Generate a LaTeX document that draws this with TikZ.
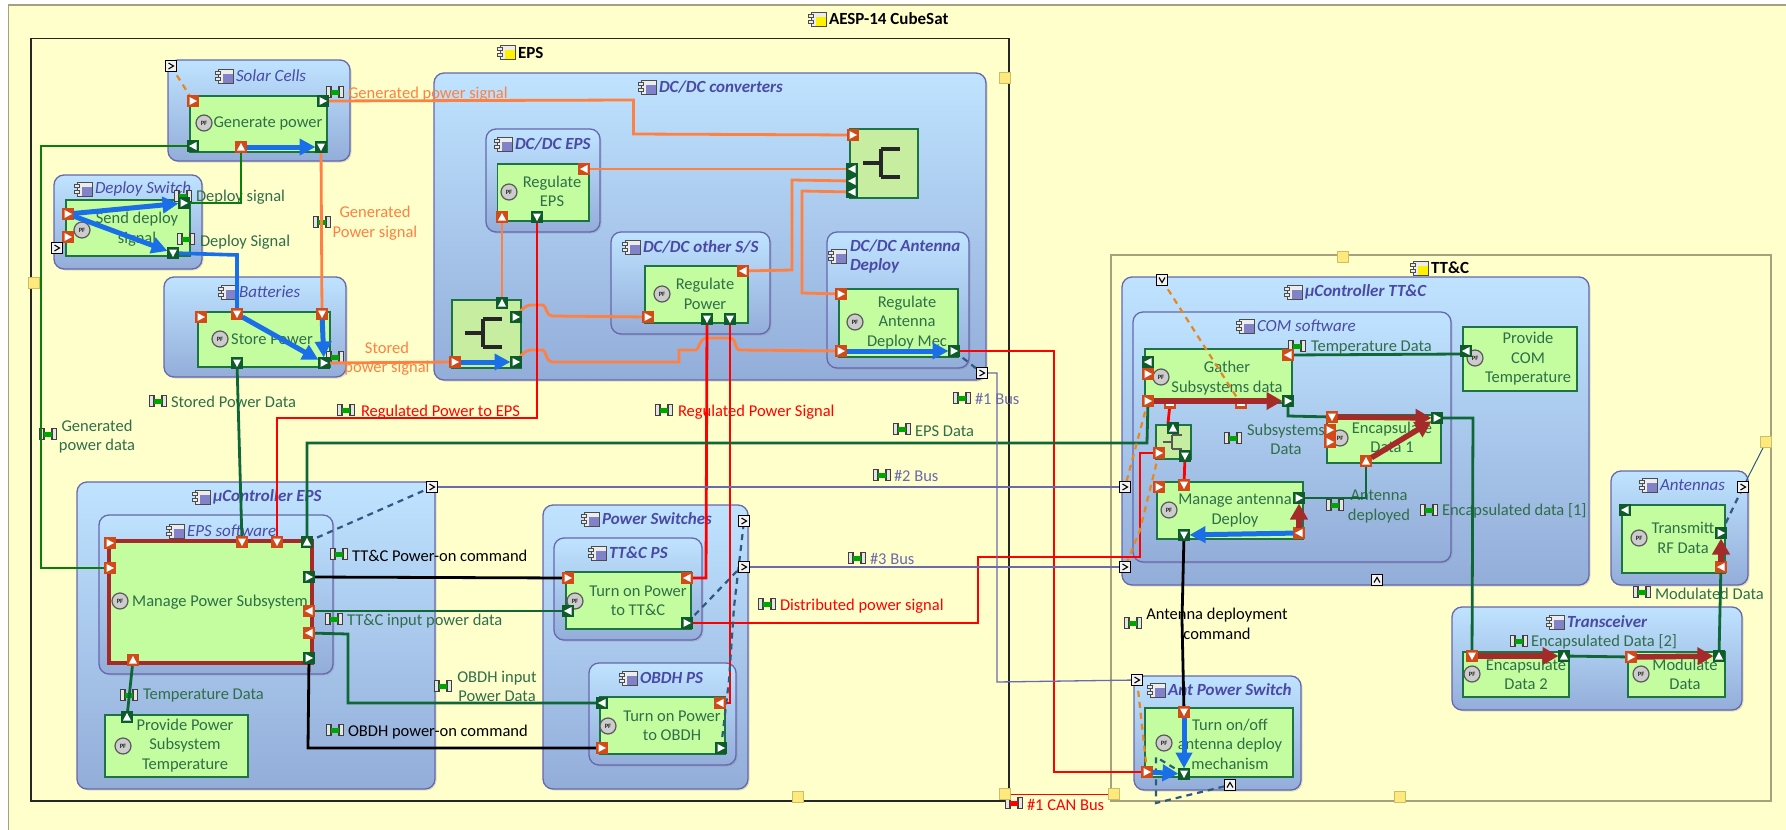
\documentclass[tikz,border=0pt]{standalone}
\usepackage{fontspec}
\setmainfont{Carlito}
\usetikzlibrary{arrows.meta,shadows}
\pgfdeclarelayer{bg}\pgfdeclarelayer{fg}\pgfdeclarelayer{top}
\pgfsetlayers{bg,main,fg,top}
\definecolor{pageY}{HTML}{FFFFCC}
\definecolor{contTop}{HTML}{BFE3FF}
\definecolor{contBot}{HTML}{93ADD9}
\definecolor{contLine}{HTML}{6767AE}
\definecolor{taskFill}{HTML}{C3FD9F}
\definecolor{forkFill}{HTML}{C6EDA0}
\definecolor{taskLine}{HTML}{1C7444}
\definecolor{txtG}{HTML}{2F6E48}
\definecolor{txtT}{HTML}{4A4AA6}
\definecolor{portO}{HTML}{D24A17}
\definecolor{portG}{HTML}{0E5C2C}
\definecolor{lnO}{HTML}{FF8040}
\definecolor{lnG}{HTML}{0F6637}
\definecolor{lnL}{HTML}{0A7D0A}
\definecolor{lnB}{HTML}{1A6FE8}
\definecolor{lnR}{HTML}{FF0000}
\definecolor{lnV}{HTML}{6A6AAE}
\definecolor{flowBr}{HTML}{A52A2A}
\definecolor{dashD}{HTML}{2F5A80}
\definecolor{dashO}{HTML}{E8871E}
\definecolor{yelSq}{HTML}{FFE97F}
\definecolor{tanLine}{HTML}{A89F7C}
\newcounter{lblc}
\tikzset{
 contbox/.style={draw=contLine,line width=1.3pt,rounded corners=10pt,top color=contTop,bottom color=contBot,inner sep=0pt,outer sep=0pt,drop shadow={shadow xshift=1.5pt,shadow yshift=-1.5pt,opacity=.25}},
 taskbox/.style={draw=taskLine,line width=1.4pt,fill=taskFill,inner sep=0pt,outer sep=0pt},
 forkbox/.style={draw=taskLine,line width=1.4pt,fill=forkFill,inner sep=0pt,outer sep=0pt},
 txtbase/.style={inner sep=0pt,outer sep=0pt,align=center,font=\fontsize{16.5}{19.5}\selectfont},
 tasktxt/.style={txtbase,text=txtG},
 titleR/.style={txtbase,anchor=west,text=txtT,font=\fontsize{17}{19.5}\selectfont\itshape},
 titleB/.style={txtbase,anchor=west,text=txtT,font=\fontsize{17}{19.5}\selectfont\itshape\bfseries},
 boldT/.style={txtbase,anchor=west,text=black,font=\fontsize{17}{19.5}\selectfont\bfseries},
 portbox/.style={draw=#1,fill=#1,line width=.5pt,minimum size=11pt,inner sep=0pt,outer sep=0pt},
 smallbox/.style={draw=black,fill=white!90!gray,line width=1pt,minimum size=10.5pt,inner sep=0pt,outer sep=0pt},
 yelbox/.style={draw=yellow!50!gray,fill=yelSq,line width=1pt,minimum size=10.5pt,inner sep=0pt,outer sep=0pt},
 conO/.style={draw=lnO,line width=2.8pt},
 conR/.style={draw=lnR,line width=2.8pt},
 conG/.style={draw=lnG,line width=2.8pt},
 conL/.style={draw=lnL,line width=2.8pt},
 conK/.style={draw=black,line width=2.8pt},
 conB/.style={draw=lnB,line width=3.6pt},
 conV/.style={draw=lnV,line width=1.3pt},
 dashDk/.style={draw=dashD,line width=2.2pt,dash pattern=on 6pt off 5pt},
 dashOr/.style={draw=dashO,line width=2.2pt,dash pattern=on 6pt off 5pt},
 flowB/.style={draw=lnB,line width=5pt,-{Triangle[length=16pt,width=16pt]}},
 flowR/.style={draw=flowBr,line width=5.5pt,-{Triangle[length=16pt,width=17pt]}},
}
% style, name, x1,y1,x2,y2
\newcommand\myBox[6]{\pgfmathsetlengthmacro\myW{#5-#3}\pgfmathsetlengthmacro\myH{#6-#4}%
 \node[#1,anchor=north west,minimum width=\myW,minimum height=\myH](#2) at (#3,#4){};}
% x (left), y (centre), inner colour
\newcommand\myIcon[3]{\begin{scope}[shift={(#1,#2)}]
 \draw[black!70,line width=1pt,fill=white!85!gray] (3,-7) rectangle (18,7);
 \fill[#3] (8,-2) rectangle (18,7);
 \draw[black!70,fill=white!85!gray,line width=.8pt] (0,-4.5) rectangle (5,-1.5);
 \draw[black!70,fill=white!85!gray,line width=.8pt] (0,1.5) rectangle (5,4.5);
 \end{scope}}
\newcommand\myPF[2]{\stepcounter{lblc}\begin{scope}\node[draw=gray!70!black,line width=1.2pt,fill=gray!40,circle,minimum size=16pt,inner sep=0pt,font=\fontsize{6.5}{6.5}\selectfont\bfseries,text=gray!30!black](pf\arabic{lblc}) at (#1,#2){PF};\end{scope}}
\newcommand\myT[3]{\stepcounter{lblc}\node[tasktxt](t\arabic{lblc}) at (#1,#2){#3};}
\newcommand\myL[4]{\stepcounter{lblc}\node[txtbase,anchor=west,text=#4](t\arabic{lblc}) at (#1,#2){#3};}
\newcommand\myM[4]{\stepcounter{lblc}\node[txtbase,text=#4](t\arabic{lblc}) at (#1,#2){#3};}
\newcommand\myTitle[4]{\myIcon{#1-21}{#2}{gray!60!blue!70}\stepcounter{lblc}\node[#4](t\arabic{lblc}) at (#1,#2){#3};}
% item flow icon x,y,middle colour
\newcommand\myItem[3]{\begin{scope}[shift={(#1,#2)}]
 \fill[#3] (-5,-2.5) rectangle (5,2.5);
 \draw[black!75,line width=1.2pt,fill=white!80!gray] (-8.5,-5.5) -- (-4,-5.5) -- (-4,5.5) -- (-8.5,5.5) -- cycle;
 \draw[black!75,line width=1.2pt,fill=white!80!gray] (8.5,-5.5) -- (4,-5.5) -- (4,5.5) -- (8.5,5.5) -- cycle;
 \fill[#3] (-4,-2.5) rectangle (4,2.5);
 \end{scope}}
% port: name,x,y,colour,angle
\newcommand\myPort[5]{\node[portbox=#4](#1) at (#2,#3){};
 \fill[white,shift={(#2,#3)},rotate=#5] (-3.5,-4) -- (4,0) -- (-3.5,4) -- cycle;}
\newcommand\myBar[3]{\node[portbox=portO,minimum height=8pt,minimum width=11pt](#1) at (#2,#3){};
 \fill[white] (#2-4,#3-1) rectangle (#2+4,#3+2);}
% small chevron box: name,x,y,angle
\newcommand\mySB[4]{\node[smallbox](#1) at (#2,#3){};
 \draw[black,line width=1.1pt,shift={(#2,#3)},rotate=#4] (-2.5,-3) -- (2.5,0) -- (-2.5,3);}
\newcommand\myFork[5][1]{\begin{scope}[shift={(#2,#3)},scale=#1]
 \draw[#5,line width=#4,line cap=butt] (0,0) -- (18,0) (18,-14) -- (18,14) (18,-14) -- (37,-14) (18,14) -- (37,14);
 \end{scope}}
\begin{document}
\begin{tikzpicture}[x=1pt,y=-1pt]
\useasboundingbox (0,0) rectangle (1786,830);
\begin{pgfonlayer}{bg}
\fill[white] (0,0) rectangle (1786,830);
\draw[draw=tanLine,line width=1.2pt,fill=pageY] (8.5,5) rectangle (1790,836);
\draw[black!85,line width=1.5pt] (31,38.5) rectangle (1009,801);
\draw[draw=tanLine,line width=1.4pt] (1111,255) rectangle (1771,801);
% top level titles
\myIcon{808}{19}{yellow}\stepcounter{lblc}\node[boldT](t\arabic{lblc}) at (829,19){AESP-14 CubeSat};
\myIcon{497}{52}{yellow}\stepcounter{lblc}\node[boldT](t\arabic{lblc}) at (518,53){EPS};
\myIcon{1410}{268}{yellow}\stepcounter{lblc}\node[boldT](t\arabic{lblc}) at (1431,268){TT\&C};
% containers
\myBox{contbox}{cSolar}{168}{60}{350}{161}
\myBox{contbox}{cDeploy}{54}{175}{202}{269}
\myBox{contbox}{cBatt}{164}{277}{346}{377}
\myBox{contbox}{cDC}{434}{73}{986}{380}
\myBox{contbox}{cDCE}{486}{129}{600}{232}
\myBox{contbox}{cDCO}{611}{232}{770}{334}
\myBox{contbox}{cDCA}{827}{232}{969}{368}
\myBox{contbox}{cMuE}{77}{482}{435}{789}
\myBox{contbox}{cSwE}{99}{515}{333}{674}
\myBox{contbox}{cPS}{543}{505}{748}{789}
\myBox{contbox}{cTTPS}{554}{538}{702}{640}
\myBox{contbox}{cOBPS}{589}{663}{736}{765}
\myBox{contbox}{cMuT}{1122}{277}{1589}{585}
\myBox{contbox}{cCOM}{1133}{312}{1451}{562}
\myBox{contbox}{cAnt}{1611}{471}{1748}{585}
\myBox{contbox}{cTrans}{1452}{607}{1742}{710}
\myBox{contbox}{cAPS}{1134}{676}{1301}{790}
% titles
\myTitle{236}{76}{Solar Cells}{titleR}
\myTitle{95}{189}{Deploy Switch}{titleR}
\myTitle{239}{292}{Batteries}{titleR}
\myTitle{659}{87}{DC/DC converters}{titleB}
\myTitle{515}{144}{DC/DC EPS}{titleB}
\myTitle{643}{247}{DC/DC other S/S}{titleB}
\myIcon{828}{256}{gray!60!blue!70}\stepcounter{lblc}\node[titleB,align=left](t\arabic{lblc}) at (850,256.5){DC/DC Antenna\\Deploy};
\myTitle{213}{497}{µController EPS}{titleB}
\myTitle{187}{531}{EPS software}{titleR}
\myTitle{602}{519}{Power Switches}{titleB}
\myTitle{609}{553}{TT\&C PS}{titleB}
\myTitle{640}{678}{OBDH PS}{titleB}
\myTitle{1305}{292}{µController TT\&C}{titleB}
\myTitle{1257}{326}{COM software}{titleR}
\myTitle{1660}{485}{Antennas}{titleR}
\myTitle{1567}{622}{Transceiver}{titleB}
\myTitle{1168}{690}{Ant Power Switch}{titleB}
% tasks
\myBox{taskbox}{tGen}{190}{96}{327}{152}
\myBox{taskbox}{tSend}{66}{200}{190}{256}
\myBox{taskbox}{tStore}{198}{312}{330}{367}
\myBox{taskbox}{tRegE}{497.5}{164}{589}{221}
\myBox{taskbox}{tRegP}{645}{266}{748}{323}
\myBox{taskbox}{tRegA}{839}{289}{958}{357}
\myBox{forkbox}{fkR}{850}{129}{918}{198}
\myBox{forkbox}{fkL}{452}{300}{521}{368}
\myBox{forkbox}{fkS}{1156}{425}{1191}{459}
\myBox{taskbox}{tMan}{109}{541}{312}{663}
\draw[flowBr,line width=4.5pt] (tMan.north west) rectangle (tMan.south east);
\myBox{taskbox}{tProv}{105}{715}{248}{777}
\myBox{taskbox}{tTT}{566}{572}{691}{629}
\myBox{taskbox}{tOB}{600}{697}{725}{754}
\myBox{taskbox}{tGat}{1145}{349}{1292}{403}
\myBox{taskbox}{tEnc1}{1327}{415}{1441}{463}
\myBox{taskbox}{tMA}{1157}{482}{1303}{539}
\myBox{taskbox}{tPC}{1463}{327}{1577}{391}
\myBox{taskbox}{tAP}{1145}{708}{1293}{777}
\myBox{taskbox}{tEnc2}{1463}{652}{1569}{697}
\myBox{taskbox}{tMod}{1628}{652}{1725}{697}
\myBox{taskbox}{tRF}{1622}{505}{1725}{573}
% fork symbols
\myFork{863}{163}{3.8pt}{black!85}
\myFork{465}{333}{3.8pt}{black!85}
\myFork[.5]{1163}{442}{2.2pt}{black!65}
% PF marks
\myPF{204}{123}\myPF{82}{230}\myPF{220}{339}\myPF{509}{192}\myPF{662}{294}\myPF{855}{322}
\myPF{120}{601}\myPF{123}{746}\myPF{575}{601}\myPF{608}{726}\myPF{1161}{377}\myPF{1340}{438}
\myPF{1169}{510}\myPF{1475}{358}\myPF{1164}{743}\myPF{1472}{674}\myPF{1641}{674}\myPF{1639}{538}
% task text
\myT{268}{123}{Generate power}
\myT{137}{229}{Send deploy\\signal}
\myT{272}{339}{Store Power}
\myT{552}{191.5}{Regulate\\EPS}
\myT{705}{294}{Regulate\\Power}
\myT{907}{322.5}{Regulate\\Antenna\\Deploy Mec}
\myT{220}{602}{Manage Power Subsystem}
\myT{185}{745.5}{Provide Power\\Subsystem\\Temperature}
\myT{638}{601}{Turn on Power\\to TT\&C}
\myT{672}{726}{Turn on Power\\to OBDH}
\myT{1227}{378}{Gather\\Subsystems data}
\myT{1392}{437.5}{Encapsulate\\Data 1}
\myT{1235}{510.5}{Manage antenna\\Deploy}
\myT{1528}{359}{Provide\\COM\\Temperature}
\myT{1230}{744}{Turn on/off\\antenna deploy\\mechanism}
\myT{1526}{674.5}{Encapsulate\\Data 2}
\myT{1685}{674.5}{Modulate\\Data}
\myT{1683}{538}{Transmitt\\RF Data}
% item flows
\myItem{335}{92}{green!65!black}\myL{348}{94}{Generated power signal}{lnO}
\myItem{183}{196}{green!65!black}\myL{196}{197}{Deploy signal}{txtG}
\myItem{186}{239}{green!65!black}\myL{200}{242}{Deploy Signal}{txtG}
\myItem{322}{222}{green!65!black}\myM{375}{223}{Generated\\Power signal}{lnO}
\myItem{335}{357}{green!65!black}\myM{387}{358.5}{Stored\\power signal}{lnO}
\myItem{158}{401}{green!65!black}\myL{171}{402}{Stored Power Data}{txtG}
\myItem{346}{410}{green!65!black}\myL{361}{412}{Regulated Power to EPS}{lnR}
\myItem{664}{410}{green!65!black}\myL{678}{412}{Regulated Power Signal}{lnR}
\myItem{962}{398}{green!65!black}\myL{975}{399}{\#1 Bus}{lnV}
\myItem{902}{429}{green!65!black}\myL{915}{431}{EPS Data}{txtG}
\myItem{48}{434}{green!65!black}\myM{97}{436.5}{Generated\\power data}{txtG}
\myItem{882}{475}{green!65!black}\myL{894}{476}{\#2 Bus}{lnV}
\myItem{857}{558}{green!65!black}\myL{870}{559}{\#3 Bus}{lnV}
\myItem{339}{554}{green!65!black}\myL{352}{556}{TT\&C Power-on command}{black}
\myItem{334}{619}{green!65!black}\myL{347}{621}{TT\&C input power data}{txtG}
\myItem{443}{686}{green!65!black}\myM{497}{686.5}{OBDH input\\Power Data}{txtG}
\myItem{335}{730}{green!65!black}\myL{348}{732}{OBDH power-on command}{black}
\myItem{129}{695}{green!65!black}\myL{143}{696}{Temperature Data}{txtG}
\myItem{767}{604}{green!65!black}\myL{780}{606}{Distributed power signal}{lnR}
\myItem{1014}{803}{red}\myL{1027}{805}{\#1 CAN Bus}{lnR}
\myItem{1297}{346}{green!65!black}\myL{1311}{348}{Temperature Data}{txtG}
\myItem{1233}{438}{green!65!black}\myM{1286}{439.5}{Subsystems\\Data}{txtG}
\myItem{1335}{505}{green!65!black}\myM{1379}{506.5}{Antenna\\deployed}{txtG}
\myItem{1429}{510}{green!65!black}\myL{1442}{511}{Encapsulated data [1]}{txtG}
\myItem{1133}{623}{green!65!black}\myM{1217}{624}{Antenna deployment\\command}{black}
\myItem{1519}{641}{green!65!black}\myL{1531}{642}{Encapsulated Data [2]}{txtG}
\myItem{1642}{592}{green!65!black}\myL{1655}{594}{Modulated Data}{txtG}
\end{pgfonlayer}
% ports and small boxes
\begin{pgfonlayer}{fg}
\myPort{gpA}{193}{101}{portO}{0}\myPort{gpB}{323}{101}{portG}{0}\myPort{gpC}{193}{146}{portG}{180}
\myPort{gpD}{241}{147}{portO}{90}\myPort{gpE}{321}{147}{portG}{-90}
\myPort{sdA}{68}{214}{portO}{0}\myPort{sdB}{68}{237}{portO}{0}\myPort{sdC}{184}{203}{portG}{0}\myPort{sdD}{173}{253}{portG}{-90}
\myPort{spA}{201}{317}{portO}{0}\myPort{spB}{237}{314}{portO}{-90}\myPort{spC}{322}{314}{portO}{-90}
\myPort{spD}{237}{363}{portG}{-90}\myPort{spE}{324}{363}{portG}{0}
\myPort{flA}{502}{303}{portG}{90}\myPort{flB}{516}{317}{portG}{0}\myPort{flC}{455}{362}{portO}{0}\myPort{flD}{516}{362}{portG}{0}
\myPort{frA}{853}{135}{portO}{0}\myPort{frB}{852}{169}{portG}{180}\myPort{frC}{852}{181}{portG}{180}\myPort{frD}{852}{192}{portG}{180}
\myPort{reA}{584}{169}{portO}{180}\myPort{reB}{502}{217}{portO}{90}\myPort{reC}{537}{217}{portG}{-90}
\myPort{rpA}{743}{271}{portO}{180}\myPort{rpB}{648}{317}{portO}{0}\myPort{rpC}{707}{319}{portG}{-90}\myPort{rpD}{730}{319}{portG}{-90}
\myPort{raA}{841}{294}{portO}{0}\myPort{raB}{841}{351}{portO}{0}\myPort{raC}{954}{351}{portG}{0}
\myPort{mpA}{110}{543}{portO}{0}\myPort{mpB}{110}{568}{portO}{0}\myPort{mpC}{242}{542}{portO}{-90}\myPort{mpD}{277}{542}{portO}{-90}
\myPort{mpE}{307}{542}{portG}{90}\myPort{mpF}{309}{577}{portG}{0}\myPort{mpG}{309}{611}{portO}{180}\myPort{mpH}{309}{633}{portO}{180}
\myPort{mpI}{309}{658}{portG}{0}\myPort{mpJ}{133}{660}{portO}{90}
\myPort{ppA}{127}{717}{portG}{90}
\myPort{ttA}{568}{578}{portO}{0}\myPort{ttB}{687}{578}{portO}{180}\myPort{ttC}{568}{611}{portG}{180}\myPort{ttD}{687}{623}{portG}{0}
\myPort{obA}{602}{703}{portG}{180}\myPort{obB}{720}{703}{portO}{180}\myPort{obC}{602}{748}{portO}{0}\myPort{obD}{721}{748}{portG}{0}
\myPort{gaA}{1148}{362}{portG}{180}\myPort{gaB}{1148}{374}{portO}{0}\myPort{gaC}{1148}{401}{portO}{0}
\myBar{gaD}{1170}{404}\myBar{gaE}{1241}{404}
\myPort{gaF}{1288}{355}{portO}{180}\myPort{gaG}{1288}{401}{portG}{0}
\myPort{fsA}{1173}{428}{portG}{90}\myPort{fsB}{1159}{453}{portO}{0}\myPort{fsC}{1185}{456}{portG}{-90}
\myPort{maA}{1159}{487}{portO}{0}\myPort{maB}{1184}{485}{portO}{-90}\myPort{maC}{1299}{498}{portG}{0}\myPort{maD}{1299}{533}{portO}{180}\myPort{maE}{1184}{535}{portG}{-90}
\myPort{eaA}{1332}{417}{portO}{-90}\myPort{eaB}{1330}{430}{portO}{0}\myPort{eaC}{1330}{442}{portO}{0}\myPort{eaD}{1366}{461}{portO}{90}\myPort{eaE}{1437}{418}{portG}{0}
\myPort{pcA}{1466}{351}{portG}{180}
\myPort{apA}{1184}{712}{portO}{-90}\myPort{apB}{1147}{772}{portO}{0}\myPort{apC}{1184}{774}{portG}{-90}
\myPort{ebA}{1472}{656}{portO}{-90}\myPort{ebB}{1564}{656}{portG}{90}
\myPort{moA}{1631}{657}{portO}{0}\myPort{moB}{1719}{656}{portG}{90}
\myPort{trA}{1625}{510}{portG}{180}\myPort{trB}{1721}{533}{portG}{0}\myPort{trC}{1721}{567}{portO}{180}
\mySB{sbA}{171}{66}{0}\mySB{sbB}{57}{248}{0}\mySB{sbC}{982}{373}{0}\mySB{sbD}{432}{487}{0}
\mySB{sbE}{744}{521}{0}\mySB{sbF}{744}{567}{0}\mySB{sbG}{1162}{280}{-90}\mySB{sbH}{1125}{487}{0}
\mySB{sbI}{1125}{567}{0}\mySB{sbJ}{1377}{580}{90}\mySB{sbK}{1137}{680}{0}\mySB{sbL}{1230}{785}{90}\mySB{sbM}{1743}{487}{0}
\node[yelbox](yA) at (34,283){};\node[yelbox](yB) at (1005,78){};\node[yelbox](yC) at (798,797){};
\node[yelbox](yD) at (1005,794){};\node[yelbox](yE) at (1114,794){};\node[yelbox](yF) at (1343,257){};
\node[yelbox](yG) at (1766,442){};\node[yelbox](yH) at (1400,797){};
\end{pgfonlayer}
% connectors
\draw[conO] (gpB.center) -- (633.5,100) -- (633.5,134) -- (frA.center);
\draw[conO] (gpE.center) -- (spC.center);
\draw[conO] (spE.center) -- (flC.center);
\draw[conO] (frB.center) -- (reA.center);
\draw[conO] (frC.center) -- (792,180) -- (792,270) -- (rpA.center);
\draw[conO] (frD.center) -- (802,191) -- (802,293) -- (raA.center);
\draw[conO] (flA.center) -- (reB.center);
\draw[conO] (flB.center) .. controls (524,306) and (527,305) .. (532,305) -- (543,305) .. controls (546,305) and (546,316) .. (552,316) -- (rpB.center);
\draw[conO] (flD.center) .. controls (524,351) and (527,350) .. (532,350) -- (543,350) .. controls (546,350) and (546,362) .. (552,362) -- (679,362) -- (679,350) -- (696,350) .. controls (699,350) and (699,338) .. (707,338) -- (731,338) .. controls (736,338) and (735,350) .. (739,350) -- (raB.center);
\draw[conL] (gpC.center) -- (41,146) -- (41,568) -- (mpB.center);
\draw[conL] (sdC.center) -- (241,203) -- (gpD.center);
\draw[conB] (sdD.center) -- (237,255) -- (spB.center);
\draw[conG] (spD.center) -- (mpC.center);
\draw[conR] (reC.center) -- (537,418) -- (277,418) -- (mpD.center);
\draw[conR] (rpC.center) -- (706,578) -- (ttB.center);
\draw[conR] (rpD.center) -- (730,703) -- (obB.center);
\draw[conR] (raC.center) -- (1054,351) -- (1054,772) -- (apB.center);
\draw[conR] (ttD.center) -- (978,623) -- (978,557) -- (1140,557) -- (1140,453) -- (fsB.center);
\draw[conR] (gaD.center) -- (1168,423) -- (fsA.center);
\draw[conR] (fsC.center) -- (maB.center);
\draw[conG] (mpE.center) -- (307,443) -- (1147,443) -- (gaC.center);
\draw[conK] (mpF.center) -- (ttA.center);
\draw[conG] (mpG.center) -- (ttC.center);
\draw[conG] (mpH.center) -- (348,634) -- (348,703) -- (obA.center);
\draw[conK] (mpI.center) -- (308,748) -- (obC.center);
\draw[conG] (mpJ.center) -- (ppA.center);
\draw[conG] (gaF.center) -- (1462,354) -- (pcA.center);
\draw[conG] (gaG.center) -- (1288,416) -- (eaA.center);
\draw[conG] (maC.center) -- (1366,498) -- (eaD.center);
\draw[conG] (eaE.center) -- (1473,418) -- (ebA.center);
\draw[conG] (ebB.center) -- (moA.center);
\draw[conG] (moB.center) -- (1721,562) -- (trC.center);
\draw[conK] (maE.center) -- (1182,620) -- (apA.center);
\draw[conV] (sbC.center) -- (997,373) -- (997,682) -- (sbK.center);
\draw[conV] (sbD.center) -- (sbH.center);
\draw[conV] (sbF.center) -- (sbI.center);
\draw[draw=dashD,line width=1pt] (yG) -- (sbM);
\draw[draw=lnR,line width=1pt] (yD) -- (yE);
\draw[dashDk] (raC.center) -- (sbC.center);
\draw[dashDk] (mpE.center) -- (sbD.center);
\draw[dashDk] (obD.center) -- (729,680) -- (734,607) -- (sbE.center);
\draw[dashDk] (ttD.center) -- (738,570) -- (sbF.center);
\draw[dashDk] (trB.center) -- (sbM.center);
\draw[dashDk] (apC.center) -- (1156,757) -- (1156,803) -- (sbL.center);
\draw[dashOr] (sbA.center) -- (gpA.center);
\draw[dashOr] (sbB.center) -- (sdB.center);
\draw[dashOr] (sbG.center) -- (gaE.center);
\draw[dashOr] (gaC.center) -- (sbH.center);
\draw[dashOr] (fsB.center) -- (1140,530) -- (sbI.center);
\draw[dashOr] (sbK.center) -- (apB.center);
% flows
\begin{pgfonlayer}{top}
\draw[flowB] (gpD) -- (gpE);
\draw[flowB] (sdA) -- (sdC);
\draw[flowB] (sdA) -- (sdD);
\draw[flowB] (spB) -- (spE);
\draw[flowB] (spC) -- (spE);
\draw[flowB] (flC) -- (flD);
\draw[flowB] (raB) -- (raC);
\draw[flowB] (maD) -- (maE);
\draw[flowB] (apA) -- (apC);
\draw[flowB] (apB) -- (apC);
\draw[flowR] (gaC) -- (gaG);
\draw[flowR] (eaA) -- (eaE);
\draw[flowR] (eaD) -- (eaE);
\draw[flowR] (maD) -- (maC);
\draw[flowR] (ebA) -- (ebB);
\draw[flowR] (moA) -- (moB);
\draw[flowR] (trC) -- (trB);
\end{pgfonlayer}
\end{tikzpicture}
\end{document}
